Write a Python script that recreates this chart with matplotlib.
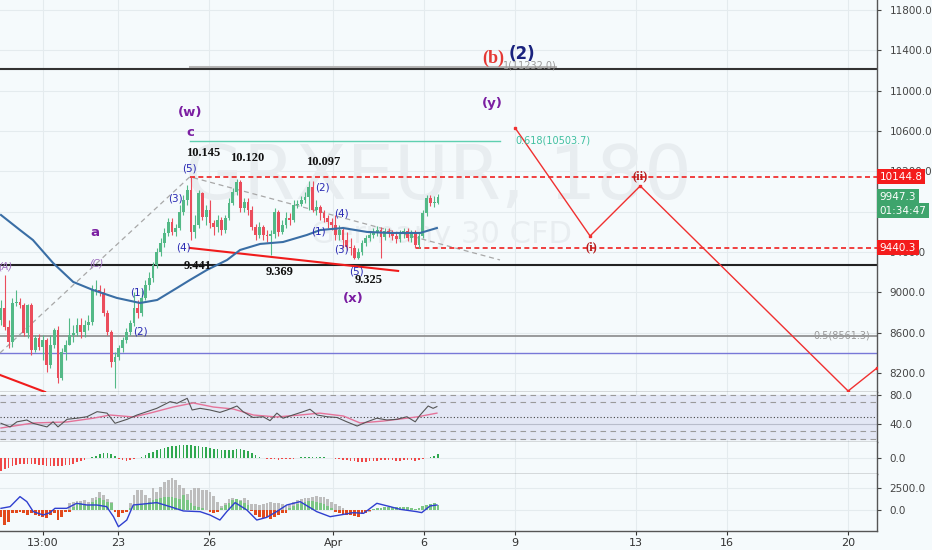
# Germany 30 CFD (GRXEUR, 180) - Elliott wave chart with RSI / MACD / momentum panels

import numpy as np
import matplotlib.pyplot as plt

# ---- price data (3h candles) ----
first_open = 8725
close = [8844, 8655, 8506, 8893, 8903, 8873, 8596, 8873, 8427, 8546,
         8457, 8526, 8278, 8477, 8625, 8149, 8407, 8477, 8576, 8596,
         8675, 8606, 8675, 8705, 9022, 9022, 9002, 8794, 8606, 8308,
         8357, 8447, 8526, 8606, 8695, 8844, 8794, 8943, 9072, 9141,
         9270, 9399, 9488, 9588, 9697, 9598, 9637, 9796, 9915, 10014,
         9598, 9667, 9984, 9746, 9816, 9687, 9647, 9717, 9617, 9737,
         9885, 9994, 10093, 9836, 9895, 9816, 9647, 9568, 9647, 9568,
         9558, 9578, 9796, 9598, 9667, 9737, 9717, 9865, 9875, 9915,
         9945, 10044, 9816, 9845, 9786, 9737, 9697, 9667, 9568, 9617,
         9518, 9449, 9439, 9340, 9399, 9488, 9538, 9568, 9598, 9617,
         9548, 9608, 9588, 9558, 9528, 9588, 9608, 9538, 9588, 9469,
         9558, 9786, 9935, 9885, 9885, 9947]
high = [8923, 9171, 8725, 8943, 9022, 8943, 8893, 8883, 8893, 8576,
        8586, 8576, 8546, 8576, 8645, 8665, 8447, 8526, 8744, 8675,
        8744, 8744, 8725, 8774, 9072, 9121, 9072, 9042, 8824, 8625,
        8407, 8477, 8556, 8645, 8725, 9002, 8923, 9022, 9121, 9201,
        9300, 9439, 9538, 9637, 9737, 9737, 9677, 9865, 9965, 10064,
        10143, 9766, 10014, 9994, 9865, 9915, 9717, 9766, 9746, 9766,
        9935, 10034, 10123, 10113, 9935, 9935, 9855, 9677, 9697, 9667,
        9617, 9617, 9836, 9816, 9717, 9796, 9786, 9915, 9915, 9955,
        9994, 10103, 10103, 9915, 9865, 9816, 9766, 9737, 9766, 9667,
        9637, 9598, 9538, 9469, 9439, 9518, 9568, 9598, 9637, 9657,
        9647, 9637, 9637, 9617, 9598, 9617, 9637, 9637, 9617, 9617,
        9598, 9816, 9965, 9965, 9955, 9975]
low = [8675, 8625, 8447, 8457, 8864, 8844, 8566, 8546, 8377, 8407,
       8427, 8328, 8209, 8248, 8447, 8100, 8129, 8328, 8526, 8506,
       8566, 8546, 8556, 8625, 8675, 8973, 8963, 8764, 8576, 8258,
       8050, 8328, 8407, 8496, 8576, 8665, 8744, 8764, 8923, 9022,
       9101, 9240, 9359, 9449, 9558, 9568, 9558, 9617, 9766, 9865,
       9518, 9538, 9637, 9717, 9667, 9637, 9568, 9598, 9568, 9588,
       9717, 9865, 9965, 9796, 9796, 9766, 9617, 9518, 9538, 9518,
       9498, 9369, 9538, 9558, 9578, 9637, 9667, 9697, 9836, 9855,
       9885, 9816, 9796, 9766, 9717, 9697, 9637, 9617, 9518, 9518,
       9439, 9419, 9369, 9325, 9330, 9369, 9459, 9508, 9538, 9558,
       9340, 9518, 9548, 9518, 9488, 9498, 9538, 9508, 9498, 9439,
       9439, 9538, 9757, 9855, 9845, 9875]

# moving average (blue) sampled along the bars
ma_x = [0, 5, 8.4, 13.7, 19, 24.2, 30.5, 36.6, 41.1, 46.3, 49.7, 54.2, 59.5,
        62.9, 68.2, 74.2, 80.5, 84, 90, 96.3, 102.4, 110.3, 114.7]
ma_y = [9766, 9617, 9518, 9290, 9102, 9022, 8943, 8893, 8923, 9042, 9121,
        9221, 9320, 9419, 9479, 9498, 9568, 9617, 9637, 9598, 9588, 9588,
        9637]

# projected wave path (red)
proj_x = [135.3, 155, 168.2, 222.9, 230.5]
proj_y = [10629, 9558, 10054, 8020, 8248]

# ---- RSI panel ----
rsi_x = [0, 2.4, 4.2, 6.8, 8.4, 12.1, 13.7, 15, 17.4, 20, 22.6, 25.3, 27.9,
         30, 33.2, 35.8, 38.4, 41, 44.5, 46.3, 49, 50.3, 52.4, 55, 57.6,
         59.5, 62.1, 63.7, 66.3, 69, 70.8, 72.6, 74.2, 76.8, 79.5, 81.3,
         83.2, 85.8, 88.4, 91, 93.7, 96.3, 98.9, 101.6, 104.2, 106.8, 109,
         110.3, 112.4, 113.7, 114.7]
rsi_y = [41, 36, 43, 45.5, 41, 36, 43, 36, 46.5, 48, 50, 57, 55, 41, 46.5,
         52.4, 57, 61.6, 70.8, 68.5, 75.4, 59.3, 61.6, 59.3, 56, 59.3, 64.8,
         57, 49, 50, 44.6, 55, 48, 52.4, 57, 60.3, 52.4, 50, 49, 43, 37.2,
         43, 48, 45.5, 46.5, 50, 43, 52.4, 64.8, 61.6, 64]
rsi_ma_x = [0, 8.5, 17.3, 24.3, 28.7, 34.8, 39.2, 45.3, 50.6, 55.9, 61.1,
            66.4, 72.5, 78.7, 83.9, 90.1, 94.5, 100.6, 105, 109.4, 114.7]
rsi_ma_y = [34.5, 41.4, 42.8, 48, 52.4, 49.7, 55, 63.4, 69, 63.4, 60.7,
            52.4, 49.7, 52.4, 55, 51, 41.4, 44.1, 46.9, 49.7, 55]

# ---- MACD histogram ----
macd_hist = [-127, -107, -97, -83, -73, -63, -63, -57, -57, -63,
             -67, -73, -77, -80, -77, -83, -80, -73, -67, -57,
             -43, -30, -17, -3, 10, 23, 40, 47, 47, 37,
             17, -10, -23, -27, -23, -13, 0, 13, 33, 50,
             63, 77, 90, 100, 110, 120, 123, 127, 130, 133,
             127, 123, 120, 113, 107, 100, 93, 87, 80, 77,
             77, 83, 90, 90, 83, 70, 50, 30, 10, 0,
             -10, -13, -13, -17, -13, -10, -10, -7, 0, 7,
             10, 13, 13, 10, 10, 7, 3, -3, -7, -10,
             -17, -23, -30, -33, -37, -37, -37, -33, -30, -27,
             -23, -23, -23, -23, -27, -27, -23, -23, -23, -27,
             -20, -10, 3, 13, 23, 40]

# ---- momentum panel ----
mom_hist = [-760, -1710, -1330, -380, -300, -190, -380, -570, -380, -570,
            -680, -760, -950, -570, -380, -1140, -840, -190, -190, 380,
            840, 760, 570, 570, 950, 1140, 1330, 1140, 950, 760,
            -190, -760, -380, -190, 190, 460, 570, 680, 760, 950,
            1140, 1220, 1330, 1440, 1520, 1520, 1330, 1220, 1710, 1140,
            760, 460, 300, 190, 40, -190, -300, -190, 190, 570,
            840, 1140, 1220, 1060, 840, 570, -80, -570, -840, -950,
            -840, -1060, -760, -570, -380, -300, 190, 460, 680, 840,
            950, 1060, 1060, 950, 840, 680, 460, 190, -190, -380,
            -460, -570, -570, -680, -760, -460, -300, -80, 80, 190,
            270, 300, 380, 380, 340, 380, 300, 340, 190, 80,
            190, 460, 570, 680, 760, 570]
mom_grey = [0, 0, 0, 0, 0, 0, 0, 0, 0, 0,
            0, 0, 0, 0, 0, 0, 0, 0, 760, 950,
            1060, 1060, 1140, 950, 1330, 1520, 2090, 1710, 1220, 950,
            0, 0, 0, 0, 760, 1710, 2280, 2280, 1710, 1330,
            2470, 2090, 2660, 3230, 3420, 3610, 3420, 2850, 2470, 1790,
            2280, 2470, 2470, 2280, 2280, 2090, 1600, 950, 460, 840,
            1220, 1330, 1220, 1140, 1330, 1140, 680, 680, 570, 680,
            760, 950, 840, 760, 680, 460, 570, 950, 1140, 1220,
            1330, 1330, 1520, 1600, 1440, 1520, 1220, 950, 680, 460,
            190, 0, 0, 0, 0, 0, -380, -190, 0, 0,
            0, 0, 0, 0, 0, 0, 0, 0, 0, 0,
            0, 0, 0, 0, 0, 0]
mom_line_x = [0, 2.4, 5, 6.8, 8.5, 11.1, 12.9, 14.2, 17.3, 19.9, 22.6, 25.2,
              27.8, 29.6, 30.9, 33.1, 34.8, 37.5, 41, 44.5, 48, 52.4, 55,
              57.6, 59.4, 61.6, 64.7, 67.3, 69.9, 72.5, 75.2, 78.7, 83.1,
              86.6, 89.2, 92.7, 95.4, 98.9, 102.4, 105, 109.4, 110.7, 112.9,
              114.7]
mom_line_y = [190, 380, 1520, 950, -190, -570, -300, 190, 190, 760, 570, 570,
              380, -760, -1900, -1140, 570, 680, 840, 380, -110, -190, -570,
              -1140, -190, 840, 0, -1140, -840, -190, 570, 950, -190, -760,
              -570, -300, -380, 760, 380, 80, -190, -300, 460, 570]

# ---- x axis labels ----
tick_pos = [11.05, 30.8, 54.7, 87.4, 111.3, 135.3, 167.1, 191.05, 222.9]
tick_lab = ['13:00', '23', '26', 'Apr', '6', '9', '13', '16', '20']

bg = '#f5fafc'
grid_c = '#e4ebee'
up_c = '#53b987'
dn_c = '#eb4d5c'
xlim = (-0.26, 230.5)

fig = plt.figure(figsize=(9.32, 5.5), dpi=100, facecolor=bg)
ax = fig.add_axes([0, 1 - 392 / 550, 877 / 932, 392 / 550], facecolor=bg)
ax_rsi = fig.add_axes([0, 1 - 442 / 550, 877 / 932, 50 / 550], facecolor=bg)
ax_macd = fig.add_axes([0, 1 - 474 / 550, 877 / 932, 32 / 550], facecolor=bg)
ax_mom = fig.add_axes([0, 1 - 531 / 550, 877 / 932, 57 / 550], facecolor=bg)

for a in (ax, ax_rsi, ax_macd, ax_mom):
    a.set_xlim(*xlim)
    a.yaxis.tick_right()
    a.tick_params(axis='y', labelsize=7.5, colors='#444', length=3, pad=6)
    a.tick_params(axis='x', length=0)
    for s in ('left', 'top'):
        a.spines[s].set_visible(False)
    for s in ('right', 'bottom'):
        a.spines[s].set_color('#555')
        a.spines[s].set_linewidth(1.0)
    for t in tick_pos:
        a.axvline(t, color=grid_c, lw=0.8, zorder=0)
    a.set_xticks([])

# ---- main panel ----
ax.set_ylim(8010, 11899)
pticks = list(range(8200, 12000, 400))
ax.set_yticks(pticks)
ax.set_yticklabels([f'{p:.1f}' for p in pticks])
for p in pticks:
    ax.axhline(p, color=grid_c, lw=0.8, zorder=0)

# watermark
ax.text(115, 10133, 'GRXEUR, 180', fontsize=54, color='#e8edf0',
        ha='center', va='center', zorder=0.5)
ax.text(115.8, 9568, 'Germany 30 CFD', fontsize=22, color='#e8edf0',
        ha='center', va='center', zorder=0.5)

# horizontal levels
ax.plot([49.7, 145.8], [11232, 11232], color='#b5b5b5', lw=2.2, zorder=1)
ax.axhline(11210, color='#333', lw=1.5, zorder=2)
ax.axhline(9270, color='#222', lw=1.5, zorder=2)
ax.axhline(8561.3, color='#8a8a8a', lw=1.2, zorder=1)
ax.axhline(8397, color='#7878d8', lw=1.0, zorder=1)
ax.plot([49.7, 131.3], [10503.7, 10503.7], color='#5fd0b0', lw=1.0, zorder=1)
ax.plot([49.7, xlim[1]], [10144.8, 10144.8], color='#f02020', lw=1.2,
        ls=(0, (3, 2)), zorder=2)
ax.plot([109.2, xlim[1]], [9440.3, 9440.3], color='#f02020', lw=1.2,
        ls=(0, (3, 2)), zorder=2)

# dashed grey wave channel
ax.plot([-0.26, 49.7, 131.3], [8397, 10145, 9320], color='#a8a8a8', lw=0.9,
        ls=(0, (4, 3)), zorder=1)
# red trendlines
ax.plot([49.7, 104.5], [9439, 9211], color='#f01c1c', lw=1.5, zorder=3)
ax.plot([-0.26, 11.6], [8179, 8010], color='#f01c1c', lw=1.5, zorder=3)

# candles
n = len(close)
xs = np.arange(n)
opens = [first_open] + close[:-1]
for i in range(n):
    o, c = opens[i], close[i]
    col = up_c if c >= o else dn_c
    hi = max(high[i], o, c)
    lo = min(low[i], o, c)
    ax.vlines(xs[i], lo, hi, color=col, lw=0.8, zorder=3)
    ax.bar(xs[i], max(abs(c - o), 6), bottom=min(o, c), width=0.74,
           color=col, zorder=4, linewidth=0)

ax.plot(ma_x, ma_y, color='#3a6ea5', lw=1.5, zorder=5)
ax.plot(proj_x, proj_y, color='#f03030', lw=1.0, zorder=3,
        marker='s', markersize=2)

# wave labels
purple = '#7b1fa2'
wave_blue = '#2929b3'
for txt, x, y in [('(w)', 49.7, 10778), ('c', 49.7, 10580), ('a', 24.7, 9588),
                  ('(x)', 92.6, 8933), ('(y)', 129.2, 10877)]:
    ax.text(x, y, txt, color=purple, fontsize=9.5, fontweight='bold',
            ha='center', va='center', zorder=6)
for txt, x, y in [('(A)', 1.2, 9260), ('(C)', 25, 9280)]:
    ax.text(x, y, txt, color='#a070c0', fontsize=7, ha='center',
            va='center', zorder=6, style='italic')
ax.text(129.5, 11323, '(b)', color='#e53935', fontsize=13, fontweight='bold',
        family='Liberation Serif', ha='center', va='center', zorder=6)
ax.text(137.1, 11360, '(2)', color='#1a237e', fontsize=12, fontweight='bold',
        ha='center', va='center', zorder=6)
for txt, x, y in [('(5)', 49.7, 10232), ('(3)', 45.8, 9925), ('(4)', 47.9, 9439),
                  ('(1)', 35.8, 9002), ('(2)', 36.8, 8606), ('(2)', 84.5, 10034),
                  ('(4)', 89.5, 9776), ('(1)', 83.4, 9607), ('(3)', 89.5, 9419),
                  ('(5)', 93.4, 9201)]:
    ax.text(x, y, txt, color=wave_blue, fontsize=7.5, ha='center',
            va='center', zorder=6)
for txt, x, y in [('10.145', 53.2, 10381), ('10.120', 64.7, 10332),
                  ('10.097', 84.7, 10292), ('9.441', 51.8, 9260),
                  ('9.369', 73.2, 9201), ('9.325', 96.8, 9121)]:
    ax.text(x, y, txt, color='#111', fontsize=9, fontweight='bold',
            family='Liberation Serif', ha='center', va='center', zorder=6)
for txt, x, y in [('(i)', 155.3, 9449), ('(ii)', 168.2, 10153)]:
    ax.text(x, y, txt, color='#b71c1c', fontsize=9, fontweight='bold',
            family='Liberation Serif', ha='center', va='center', zorder=6)

# fib labels
ax.text(139.2, 11250, '1(11232.0)', color='#999', fontsize=7, ha='center',
        va='center', zorder=6)
ax.text(145.3, 10503.7, '0.618(10503.7)', color='#40c0a0', fontsize=7,
        ha='center', va='center', zorder=6)
ax.text(228.7, 8575, '0.5(8561.3)', color='#999', fontsize=7, ha='right',
        va='center', zorder=6)

# price boxes on the right axis
ytr = ax.get_yaxis_transform()
for txt, y, fc in [('10144.8', 10144.8, '#f41c1c'), ('9947.3', 9947.3, '#3ea46c'),
                   ('01:34:47', 9810, '#3ea46c'), ('9440.3', 9440.3, '#f41c1c')]:
    ax.text(1.003, y, txt, transform=ytr, color='white', fontsize=7.5,
            ha='left', va='center', zorder=10, clip_on=False,
            bbox=dict(boxstyle='square,pad=0.25', fc=fc, ec='none'))

# ---- RSI ----
ax_rsi.set_ylim(15.2, 84.1)
ax_rsi.fill_between(xlim, 20, 80, color='#e3e7f5', zorder=0.5)
for lv in (80, 70, 30, 20):
    ax_rsi.axhline(lv, color='#9a9a9a', lw=0.8, ls=(0, (5, 4)), zorder=1)
ax_rsi.axhline(50, color='#444', lw=0.8, ls=(0, (1, 2)), zorder=1)
ax_rsi.axhline(40, color='#b8bccb', lw=0.8, zorder=1)
ax_rsi.plot(rsi_ma_x, rsi_ma_y, color='#e57399', lw=1.0, zorder=2)
ax_rsi.plot(rsi_x, rsi_y, color='#555', lw=0.8, zorder=3)
ax_rsi.set_yticks([40, 80])
ax_rsi.set_yticklabels(['40.0', '80.0'])

# ---- MACD histogram ----
ax_macd.set_ylim(-160, 160)
ax_macd.axhline(0, color=grid_c, lw=0.8, zorder=0)
mcol = ['#2fa84f' if v >= 0 else '#f04848' for v in macd_hist]
ax_macd.bar(xs, macd_hist, width=0.45, color=mcol, zorder=2, linewidth=0)
ax_macd.set_yticks([0])
ax_macd.set_yticklabels(['0.0'])

# ---- momentum panel ----
ax_mom.set_ylim(-2386, 4090)
for lv in (0, 2500):
    ax_mom.axhline(lv, color=grid_c, lw=0.8, zorder=0)
ax_mom.bar(xs, mom_grey, width=0.75, color='#bdbdbd', zorder=1, linewidth=0)
hcol = ['#7cc684' if v >= 0 else '#e2491c' for v in mom_hist]
ax_mom.bar(xs, mom_hist, width=0.75, color=hcol, zorder=2, linewidth=0)
ax_mom.plot(mom_line_x, mom_line_y, color='#2f3fd0', lw=1.0, zorder=3)
ax_mom.set_yticks([0, 2500])
ax_mom.set_yticklabels(['0.0', '2500.0'])
ax_mom.set_xticks(tick_pos)
ax_mom.set_xticklabels(tick_lab)
ax_mom.tick_params(axis='x', labelsize=8, colors='#333', length=3, pad=2)

fig.savefig('out.png', dpi=100, facecolor=bg)
